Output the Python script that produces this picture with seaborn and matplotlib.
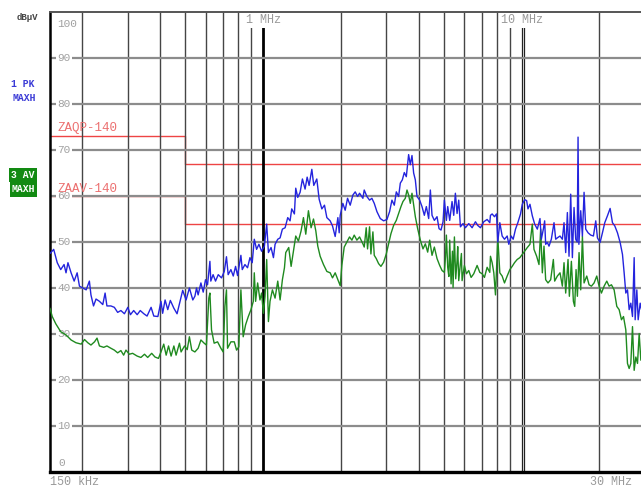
import pandas as pd
import seaborn as sns
import matplotlib.pyplot as plt
from matplotlib.transforms import blended_transform_factory

# peak detector trace (1 PK MAXH), frequency in kHz, level in dBuV
pk_freq = [150, 155, 160, 165, 170, 173, 176, 181, 186, 191, 195, 201, 207, 213, 216, 221,
           226, 233, 240, 245, 249, 258, 266, 274, 282, 291, 300, 307, 316, 326, 335, 346,
           356, 369, 378, 392, 403, 409, 418, 428, 438, 452, 465, 479, 489, 504, 519, 535,
           545, 553, 561, 575, 587, 599, 610, 623, 628, 641, 655, 671, 691, 708, 722, 733,
           751, 767, 783, 797, 821, 831, 851, 871, 890, 908, 925, 944, 964, 987, 1012, 1033,
           1049, 1074, 1097, 1113, 1140, 1164, 1188, 1217, 1246, 1272, 1291, 1322, 1338, 1362,
           1391, 1420, 1454, 1481, 1507, 1544, 1571, 1614, 1648, 1688, 1728, 1765, 1818, 1856,
           1901, 1947, 1970, 1988, 2035, 2078, 2122, 2173, 2225, 2272, 2320, 2362, 2433, 2462,
           2521, 2582, 2636, 2692, 2757, 2840, 2926, 3014, 3086, 3151, 3218, 3276, 3344, 3395,
           3456, 3518, 3581, 3656, 3711, 3767, 3823, 3881, 3939, 4033, 4118, 4205, 4281, 4371,
           4436, 4503, 4597, 4708, 4793, 4879, 4967, 5026, 5117, 5178, 5271, 5382, 5463, 5544,
           5628, 5712, 5798, 5937, 6062, 6245, 6434, 6628, 6767, 6930, 7139, 7355, 7532, 7577,
           7691, 7852, 7994, 8089, 8235, 8408, 8585, 8792, 8923, 9111, 9275, 9470, 9669, 9902,
           10060, 10271, 10456, 10581, 10771, 10998, 11230, 11500, 11776, 11918, 12133, 12277,
           12387, 12573, 12761, 13029, 13343, 13543, 13746, 14076, 14373, 14587, 14806, 15028,
           15252, 15481, 15714, 15948, 16188, 16400, 16528, 16650, 16926, 17180, 17437, 17698,
           18070, 18506, 18952, 19350, 19641, 20112, 20536, 20968, 21474, 21989, 22453, 22924,
           23477, 24041, 24548, 24915, 25288, 25668, 26051, 26442, 26839, 27240, 27483, 27896,
           28229, 28736, 29082]
pk_level = [47.5, 48.4, 45.5, 44.0, 45.1, 43.3, 45.5, 43.3, 41.5, 43.3, 40.4, 40.0, 39.6, 41.5, 38.5, 36.1,
            37.6, 37.1, 36.4, 38.9, 36.1, 36.1, 35.8, 34.7, 35.1, 34.4, 35.8, 34.2, 35.1, 34.2, 35.1, 34.4,
            33.9, 35.8, 33.9, 33.8, 37.1, 34.5, 37.4, 35.3, 37.3, 35.6, 34.4, 37.4, 39.5, 37.4, 40.0, 37.4,
            38.2, 40.0, 38.5, 41.1, 39.1, 41.8, 40.7, 45.8, 41.5, 42.9, 41.5, 42.9, 42.2, 43.6, 46.8, 42.9,
            44.0, 42.6, 44.7, 42.7, 47.1, 44.0, 45.1, 44.4, 46.6, 45.5, 50.6, 48.4, 49.5, 48.0, 49.1, 53.9,
            47.7, 48.8, 46.6, 49.5, 50.6, 50.9, 52.8, 53.1, 55.3, 54.6, 57.2, 56.1, 61.7, 59.7,
            60.8, 63.7, 61.5, 64.1, 62.3, 65.8, 62.3, 63.7, 59.3, 57.2, 58.0, 55.3, 54.6, 53.5,
            51.2, 55.3, 52.0, 55.8, 58.4, 56.9, 59.5, 58.0, 60.2, 60.9, 59.9, 60.6, 59.5, 61.3,
            59.9, 59.1, 59.5, 58.4, 56.6, 55.1, 54.6, 54.9, 56.6, 59.1, 58.0, 60.9, 59.9, 62.8,
            63.5, 65.1, 64.2, 69.0, 66.8, 68.8, 65.0, 63.5, 59.9, 59.1, 57.7, 55.8, 57.7, 55.1,
            61.3, 55.8, 54.7, 55.5, 52.9, 52.6, 54.4, 59.1, 54.7, 57.7, 54.7, 58.8, 55.8, 60.6,
            56.2, 59.1, 53.3, 54.0, 53.1, 54.0, 53.1, 54.4, 53.6, 53.1, 54.4, 54.9, 54.2, 55.8,
            56.1, 55.5, 56.1, 50.0, 54.2, 51.3, 50.6, 51.3, 49.5, 51.3, 50.6, 52.8, 54.2, 56.1,
            58.2, 59.2, 59.0, 57.2, 58.2, 55.7, 53.9, 52.8, 55.1, 50.6, 52.8, 54.6,
            49.5, 49.9, 49.1, 50.6, 54.2, 50.6, 50.9, 51.3, 50.6, 54.2, 47.7, 56.4,
            46.9, 60.4, 46.6, 57.5, 50.6, 50.0, 72.8, 49.5, 56.8, 51.3, 60.8, 52.8,
            52.0, 51.5, 51.3, 54.6, 50.9, 49.9, 52.0, 54.2, 55.7, 57.3, 54.2, 53.5,
            52.0, 49.9, 47.3, 43.3, 38.9, 39.6, 35.3, 36.7, 33.8, 46.6, 33.1, 39.6,
            33.1, 36.7, 35.3]

# average detector trace (3 AV MAXH)
av_freq = [150, 153, 158, 165, 173, 181, 189, 198, 204, 210, 216, 223, 228, 233, 242, 249,
           258, 266, 274, 282, 289, 295, 304, 313, 326, 337, 348, 358, 371, 382, 394, 403,
           413, 422, 431, 441, 452, 461, 475, 482, 497, 509, 519, 530, 545, 561, 575, 592,
           604, 617, 623, 632, 647, 667, 687, 701, 712, 722, 729, 751, 774, 790, 806, 821,
           838, 856, 877, 898, 917, 925, 936, 953, 973, 987, 1003, 1018, 1033, 1049, 1064, 1087,
           1113, 1140, 1164, 1188, 1210, 1224, 1257, 1284, 1311, 1338, 1370, 1403, 1433, 1463,
           1498, 1534, 1567, 1600, 1628, 1663, 1713, 1765, 1818, 1856, 1901, 1947, 1988, 2017,
           2060, 2109, 2160, 2206, 2252, 2306, 2362, 2433, 2462, 2506, 2536, 2582, 2613, 2660,
           2692, 2740, 2798, 2857, 2926, 2996, 3059, 3123, 3198, 3276, 3344, 3415, 3476, 3549,
           3603, 3656, 3711, 3767, 3823, 3881, 3962, 4058, 4155, 4243, 4332, 4410, 4503, 4597,
           4708, 4821, 4923, 5026, 5080, 5117, 5178, 5230, 5271, 5335, 5400, 5431, 5496, 5561,
           5628, 5660, 5712, 5798, 5850, 5885, 6008, 6116, 6245, 6377, 6530, 6727, 6889, 7034,
           7182, 7355, 7532, 7577, 7691, 7806, 7923, 7994, 8089, 8235, 8408, 8585, 8792, 9003,
           9193, 9386, 9612, 9843, 10060, 10271, 10519, 10771, 10998, 11163, 11432, 11672, 11847,
           12025, 12204, 12387, 12647, 12952, 13264, 13422, 13746, 14076, 14373, 14587, 14806,
           15117, 15298, 15574, 15855, 16044, 16236, 16431, 16676, 16926, 17180, 17437, 17857,
           18232, 18617, 19064, 19524, 19933, 20354, 20843, 21346, 21794, 22253, 22788, 23337,
           23828, 24330, 24769, 25288, 25668, 26051, 26442, 26839, 27240, 27648, 28063, 28482,
           28909]
av_level = [35.6, 33.8, 32.2, 30.5, 29.8, 28.7, 28.1, 27.8, 28.8, 28.1, 27.6, 28.3, 29.1, 27.4, 27.1, 27.4,
            26.9, 26.5, 25.9, 26.4, 25.4, 26.5, 25.6, 25.8, 25.2, 24.9, 25.6, 24.9, 25.8, 25.0, 24.7, 26.1,
            27.8, 25.4, 27.4, 25.2, 27.4, 25.4, 28.0, 26.1, 27.4, 26.6, 29.4, 26.5, 26.1, 26.9, 28.7, 28.0,
            27.6, 37.8, 38.9, 30.9, 28.0, 28.3, 26.9, 26.1, 36.0, 39.6, 26.9, 28.3, 28.3, 26.5, 27.2, 39.6,
            29.4, 32.0, 33.8, 35.3, 37.1, 43.3, 37.1, 41.1, 37.4, 38.9, 34.5, 38.2, 46.2, 32.7, 37.1, 39.6,
            37.8, 41.5, 37.4, 41.8, 44.4, 47.7, 48.8, 44.7, 48.0, 51.3, 50.2, 52.4, 55.3, 51.7,
            56.8, 53.1, 55.0, 52.4, 49.1, 46.9, 45.1, 43.6, 43.3, 42.2, 43.3, 41.8, 40.5, 44.9,
            48.9, 50.0, 51.1, 50.4, 51.5, 50.4, 51.1, 49.6, 48.9, 53.1, 48.5, 53.3, 47.4, 52.2,
            47.1, 46.4, 45.3, 44.7, 45.6, 47.4, 49.6, 51.8, 53.6, 54.7, 56.2, 57.7, 58.8, 59.5,
            61.3, 60.2, 58.4, 60.6, 58.0, 55.5, 52.9, 50.4, 48.5, 49.6, 47.8, 50.4, 47.1, 48.9,
            46.4, 44.9, 43.8, 43.4, 47.0, 51.5, 44.5, 42.5, 50.4, 40.9, 48.0, 40.1, 51.1, 42.0,
            46.0, 49.0, 41.6, 45.3, 47.5, 41.6, 44.9, 43.1, 43.8, 42.3, 43.1, 44.9, 43.4, 43.1,
            42.3, 44.5, 43.4, 46.9, 45.5, 43.3, 38.5, 44.0, 50.9, 43.3, 42.6, 41.1, 42.6, 44.0,
            44.7, 45.5, 46.2, 46.6, 47.3, 48.0, 48.8, 49.5, 53.9, 48.4, 46.9, 45.1, 52.8,
            43.3, 49.1, 41.8, 41.1, 41.8, 46.2, 41.5, 42.6, 43.3, 40.4, 45.5, 38.9,
            46.2, 38.2, 45.8, 37.1, 36.0, 44.0, 38.2, 47.7, 39.6, 51.3, 41.1, 42.6,
            40.7, 40.4, 41.1, 42.6, 40.4, 38.9, 40.4, 41.5, 40.4, 40.7, 39.6, 36.0,
            35.3, 33.1, 33.8, 30.9, 23.6, 22.5, 23.6, 31.6, 22.1, 25.0, 23.6, 30.1,
            24.3]

# limit lines
qp_freq = [150, 500, 500, 30000]
qp_level = [73, 73, 67, 67]
av_lim_freq = [150, 500, 500, 30000]
av_lim_level = [60, 60, 54, 54]

y_ticks = [0, 10, 20, 30, 40, 50, 60, 70, 80, 90, 100]
v_grid = [200, 300, 400, 500, 600, 700, 800, 900,
          2000, 3000, 4000, 5000, 6000, 7000, 8000, 9000, 20000]

sns.set_theme(style="white")
plt.rcParams['font.family'] = ['Liberation Mono', 'DejaVu Sans Mono']

fig = plt.figure(figsize=(6.41, 4.88), dpi=100)
ax = fig.add_axes([50 / 641, 16 / 488, 595 / 641, 460 / 488])
ax.set_xscale('log')
ax.set_xlim(150, 30000)
ax.set_ylim(0, 100)

for v in v_grid:
    ax.axvline(v, color='#454545', lw=1.0, zorder=2)
ax.axvline(1000, color='black', lw=2.0, zorder=2)
ax.axvline(10000, color='#222222', lw=0.9, zorder=2)
ax.axvline(10180, color='#222222', lw=0.9, zorder=2)
for t in y_ticks[1:-1]:
    ax.axhline(t, color='#8c8c8c', lw=1.6, zorder=2)

lim = pd.DataFrame({"freq": qp_freq, "level": qp_level})
sns.lineplot(data=lim, x="freq", y="level", ax=ax, color='#ee4444', lw=1.0,
             estimator=None, sort=False, zorder=1.5)
lim2 = pd.DataFrame({"freq": av_lim_freq, "level": av_lim_level})
sns.lineplot(data=lim2, x="freq", y="level", ax=ax, color='#ee4444', lw=1.0,
             estimator=None, sort=False, zorder=1.5)

av = pd.DataFrame({"freq": av_freq, "level": av_level})
sns.lineplot(data=av, x="freq", y="level", ax=ax, color='#1f8a1f', lw=1.0,
             estimator=None, sort=False, zorder=3)
pk = pd.DataFrame({"freq": pk_freq, "level": pk_level})
sns.lineplot(data=pk, x="freq", y="level", ax=ax, color='#2424dd', lw=1.0,
             estimator=None, sort=False, zorder=4)

ax.set_xlabel('')
ax.set_ylabel('')
ax.tick_params(which='both', length=0, labelbottom=False, labelleft=False)
ax.spines['left'].set_linewidth(1.8)
ax.spines['left'].set_color('black')
ax.spines['bottom'].set_linewidth(2.4)
ax.spines['bottom'].set_color('black')
ax.spines['top'].set_linewidth(1.4)
ax.spines['top'].set_color('#555555')
ax.spines['right'].set_visible(False)

tr = blended_transform_factory(ax.transAxes, ax.transData)
lab_box = dict(facecolor='white', edgecolor='none', pad=1.0)
for t in y_ticks[1:-1]:
    ax.text(0.012, t, str(t), transform=tr, ha='left', va='center', fontsize=8,
            color='#a0a0a0', bbox=lab_box, zorder=2.5)
ax.text(0.012, 97.4, '100', transform=tr, ha='left', va='center', fontsize=8,
        color='#a0a0a0', zorder=2.5)
ax.text(0.014, 2.0, '0', transform=tr, ha='left', va='center', fontsize=8,
        color='#a0a0a0', zorder=2.5)

ax.text(1000, 98.2, '1 MHz', ha='center', va='center', fontsize=8.5, color='#999999',
        bbox=lab_box, zorder=5)
ax.text(10000, 98.2, '10 MHz', ha='center', va='center', fontsize=8.5, color='#999999',
        bbox=lab_box, zorder=5)

ax.text(0.013, 74.8, 'ZAQP-140', transform=tr, ha='left', va='center', fontsize=9,
        color='#ec7070', zorder=6)
ax.text(0.013, 61.5, 'ZAAV-140', transform=tr, ha='left', va='center', fontsize=9,
        color='#ec7070', zorder=6)

fig.text(50 / 641, 6 / 488, '150 kHz', ha='left', va='center', fontsize=8.5, color='#999999')
fig.text(632 / 641, 6 / 488, '30 MHz', ha='right', va='center', fontsize=8.5, color='#999999')

fig.text(27 / 641, 1 - 18 / 488, 'dBµV', ha='center', va='center', fontsize=6.5,
         color='#444444', fontweight='bold')
fig.text(23 / 641, 1 - 84 / 488, '1 PK', ha='center', va='center', fontsize=7,
         color='#3a3ad6', fontweight='bold')
fig.text(24 / 641, 1 - 98 / 488, 'MAXH', ha='center', va='center', fontsize=7,
         color='#3a3ad6', fontweight='bold')
green_box = dict(facecolor='#128a12', edgecolor='none', boxstyle='square,pad=0.22')
fig.text(23 / 641, 1 - 175 / 488, '3 AV', ha='center', va='center', fontsize=7,
         color='white', fontweight='bold', bbox=green_box)
fig.text(23.5 / 641, 1 - 189.5 / 488, 'MAXH', ha='center', va='center', fontsize=7,
         color='white', fontweight='bold', bbox=green_box)

fig.savefig('out.png', dpi=100)
